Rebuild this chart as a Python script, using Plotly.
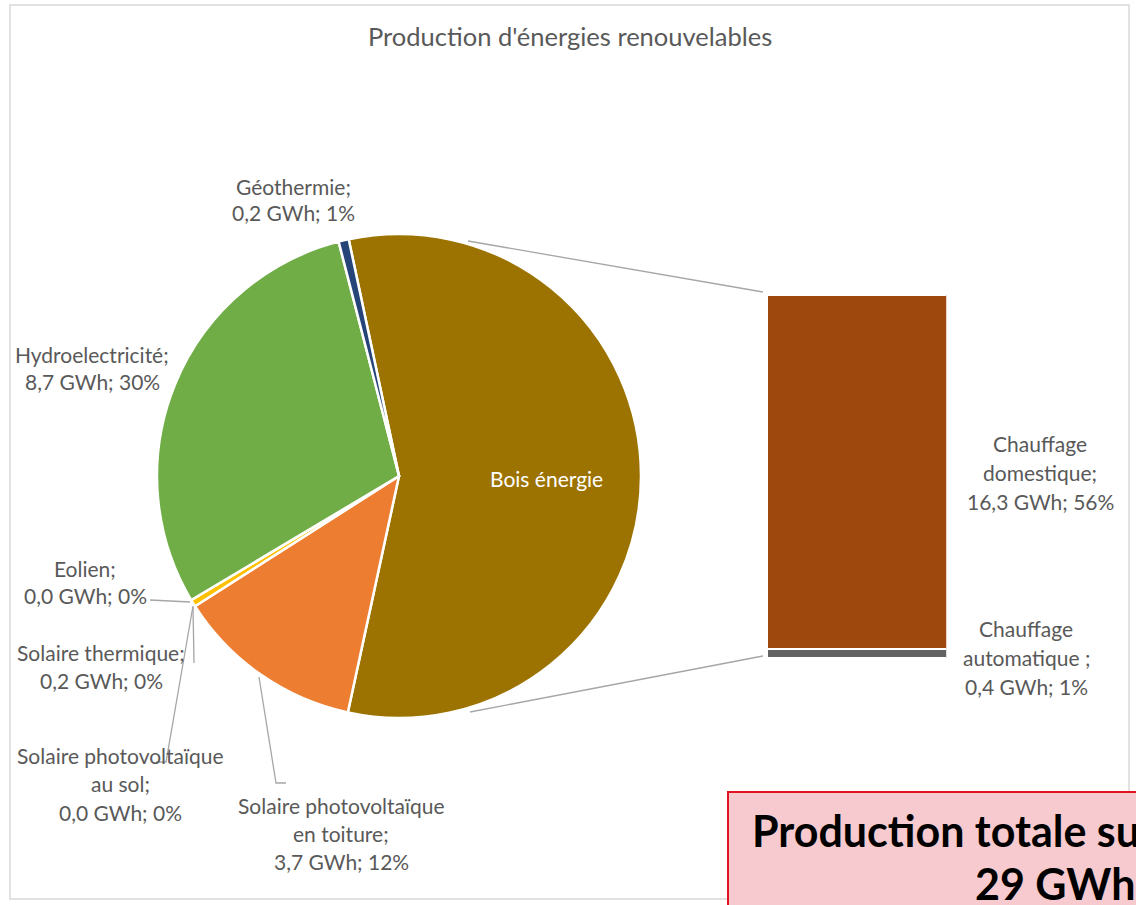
import plotly.graph_objects as go

W, H = 1136, 905

# ---- data ----
pie_labels = ["Bois énergie", "Solaire photovoltaïque en toiture", "Solaire thermique",
              "Solaire photovoltaïque au sol", "Eolien", "Hydroelectricité", "Géothermie"]
pie_values = [16.7, 3.7, 0.14, 0.0, 0.0, 8.7, 0.2]
pie_colors = ["#9C7300", "#ED7D31", "#FFC000", "#5B9BD5", "#A5A5A5", "#70AD47", "#264478"]

bar_labels = ["Chauffage automatique", "Chauffage domestique"]
bar_values = [0.4, 16.3]
bar_colors = ["#636363", "#9E480E"]

label_lines = {
    "Géothermie": ["Géothermie;", "0,2 GWh; 1%"],
    "Hydro": ["Hydroelectricité;", "8,7 GWh; 30%"],
    "Eolien": ["Eolien;", "0,0 GWh; 0%"],
    "SolTh": ["Solaire thermique;", "0,2 GWh; 0%"],
    "PVsol": ["Solaire photovoltaïque", "au sol;", "0,0 GWh; 0%"],
    "PVtoit": ["Solaire photovoltaïque", "en toiture;", "3,7 GWh; 12%"],
    "Dom": ["Chauffage", "domestique;", "16,3 GWh; 56%"],
    "Auto": ["Chauffage", "automatique ;", "0,4 GWh; 1%"],
}

FONT = "Lato"
GREY = "#595959"
LSIZE = 21


def px(x):
    return x / W


def py(y):
    return 1 - y / H


fig = go.Figure()

fig.add_trace(go.Pie(
    labels=pie_labels, values=pie_values, sort=False, direction="clockwise",
    rotation=-12, textinfo="none", hoverinfo="label+value+percent",
    marker=dict(colors=pie_colors, line=dict(color="white", width=2.5)),
    domain=dict(x=[px(157), px(641)], y=[py(718), py(234)]),
    showlegend=False,
))

for lab, val, col in zip(bar_labels, bar_values, bar_colors):
    fig.add_trace(go.Bar(
        x=["Bois énergie"], y=[val], name=lab, marker=dict(color=col, line=dict(color="white", width=2)),
        showlegend=False, hoverinfo="name+y",
    ))

shapes = []
# chart border
shapes.append(dict(type="rect", xref="paper", yref="paper", x0=px(10), x1=px(1129), y0=py(899), y1=py(5),
                   line=dict(color="#D9D9D9", width=1.5), fillcolor="rgba(0,0,0,0)", layer="below"))


def polyline(pts, color="#A6A6A6", width=1.3):
    path = "M " + " L ".join(f"{px(x)},{py(y)}" for x, y in pts)
    shapes.append(dict(type="path", xref="paper", yref="paper", path=path,
                       line=dict(color=color, width=width)))


# connectors pie -> bar
polyline([(468, 241), (763, 292)])
polyline([(470, 712), (763, 656)])
# leader lines
polyline([(150, 600), (190, 602)])
polyline([(193, 607), (194, 663)])
polyline([(193, 606), (166, 762), (156, 762)])
polyline([(259, 677), (276, 783), (286, 783)])

# total box
shapes.append(dict(type="rect", xref="paper", yref="paper", x0=px(728), x1=px(1200), y0=py(930), y1=py(792),
                   line=dict(color="#E0141E", width=2), fillcolor="#F6CACE"))

annotations = []


def add_lines(lines, cx, y0, dy=28.5, color=GREY, size=LSIZE, bold=False):
    for i, t in enumerate(lines):
        annotations.append(dict(x=px(cx), y=py(y0 + i * dy), xref="paper", yref="paper",
                                text=f"<b>{t}</b>" if bold else t, showarrow=False,
                                xanchor="center", yanchor="middle",
                                font=dict(family=FONT, size=size, color=color)))


add_lines(["Production d'énergies renouvelables"], 570, 36, size=25.5)
add_lines(label_lines["Géothermie"], 293, 186, dy=26)
add_lines(label_lines["Hydro"], 92, 354, dy=27)
add_lines(label_lines["Eolien"], 85, 568, dy=27)
add_lines(label_lines["SolTh"], 101, 652, dy=28)
add_lines(label_lines["PVsol"], 120, 755, dy=28.5)
add_lines(label_lines["PVtoit"], 341, 805, dy=28)
add_lines(label_lines["Dom"], 1040, 444, dy=29)
add_lines(label_lines["Auto"], 1026, 628, dy=29)
add_lines(["Bois énergie"], 546, 478, color="white")

annotations.append(dict(x=px(750), y=py(830), xref="paper", yref="paper", showarrow=False,
                        xanchor="left", yanchor="middle", text="<b>Production totale sur le territoire</b>",
                        font=dict(family=FONT, size=43, color="black")))
annotations.append(dict(x=px(973), y=py(883), xref="paper", yref="paper", showarrow=False,
                        xanchor="left", yanchor="middle", text="<b>29 GWh/an</b>",
                        font=dict(family=FONT, size=43, color="black")))

fig.update_layout(
    width=W, height=H, margin=dict(l=0, r=0, t=0, b=0),
    paper_bgcolor="white", plot_bgcolor="white",
    barmode="stack", bargap=0,
    xaxis=dict(domain=[px(766.7), px(946.7)], visible=False, fixedrange=True),
    yaxis=dict(domain=[py(658), py(295)], range=[0, sum(bar_values)], visible=False, fixedrange=True),
    shapes=shapes, annotations=annotations,
    font=dict(family=FONT, color=GREY),
)

fig.write_html("out.html", config={"displayModeBar": False},
               post_script="document.body.style.margin='0';document.body.style.overflow='hidden';")
